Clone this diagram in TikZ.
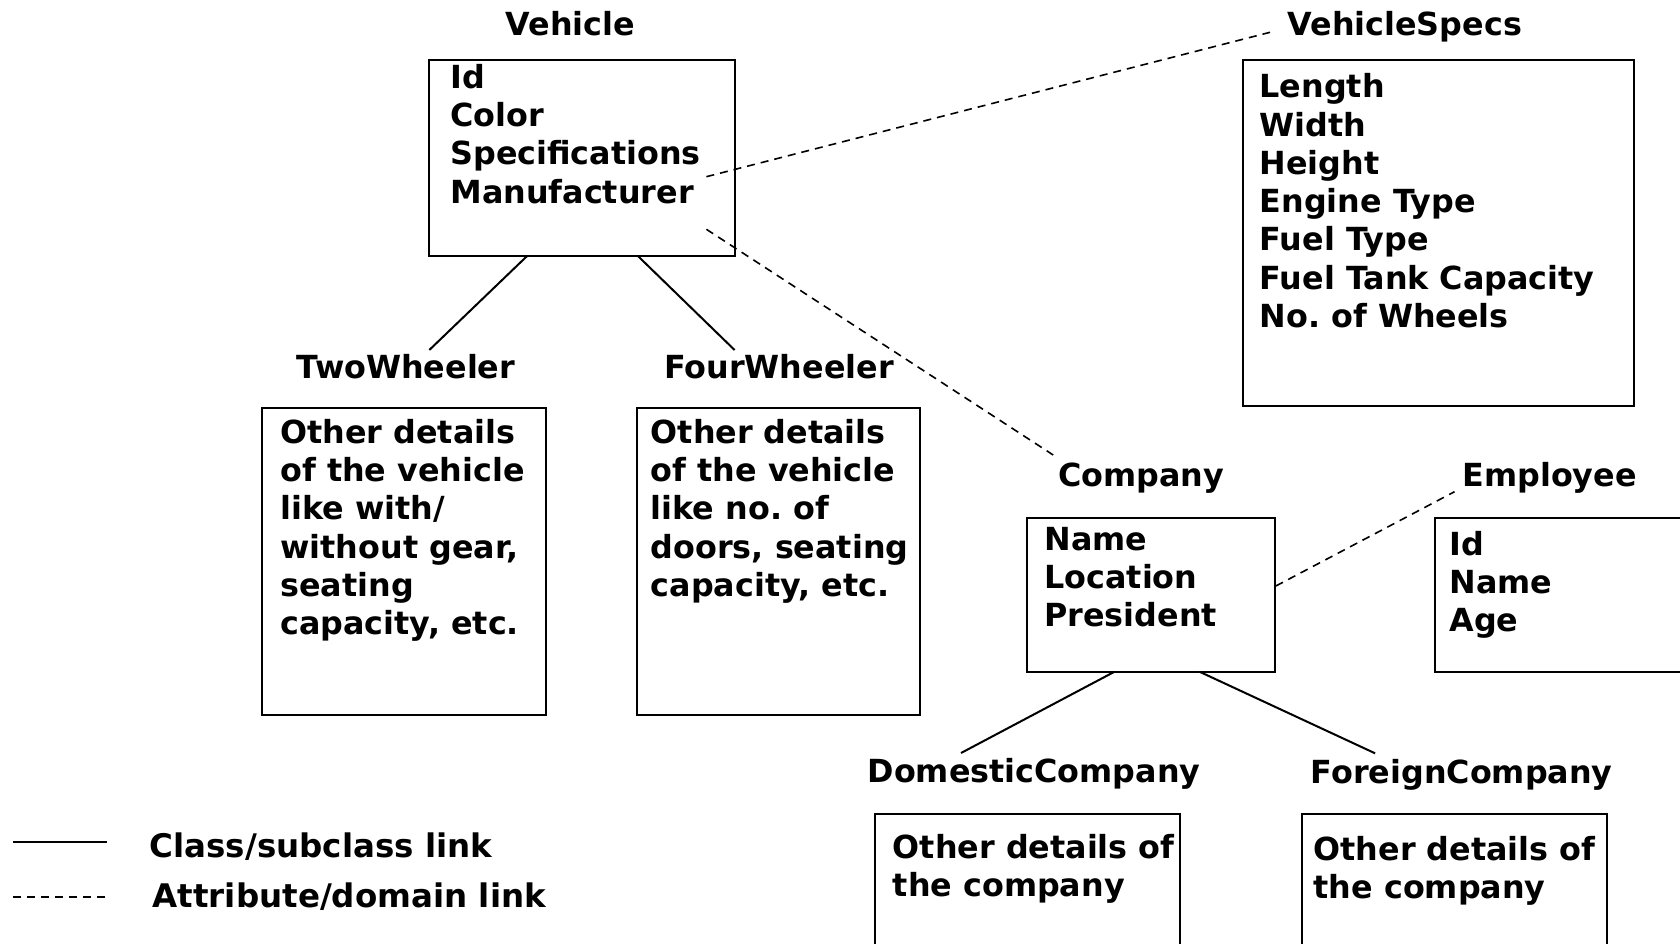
\documentclass[tikz,border=0pt]{standalone}
\usepackage{fontspec}
\setmainfont{DejaVu Sans}
\usetikzlibrary{fit}
\frenchspacing
\begin{document}
\begin{tikzpicture}[x=0.5pt,y=-0.5pt,
  box/.style={draw, line width=1pt, inner sep=0pt, rectangle},
  txt/.style={anchor=base west, align=left, inner sep=0pt, font=\fontsize{15.9}{19.15}\selectfont\bfseries},
  ttl/.style={anchor=base, inner sep=0pt, font=\fontsize{15.9}{19.15}\selectfont\bfseries},
  lgd/.style={anchor=base west, inner sep=0pt, font=\fontsize{16.25}{19.15}\selectfont\bfseries},
  sublink/.style={line width=1pt},
  attrlink/.style={line width=0.8pt, dash pattern=on 4pt off 3pt}]
\useasboundingbox (0,0) rectangle (1680,943);

% boxes
\node[box, fit={(429.3,60) (734.6,256.3)}] (vehicle) {};
\node[box, fit={(1243.2,60) (1633.6,406)}] (specs) {};
\node[box, fit={(262.1,408.3) (546.4,715)}] (two) {};
\node[box, fit={(636.8,408.3) (920,715)}] (four) {};
\node[box, fit={(1026.6,517.7) (1274.5,671.7)}] (company) {};
\node[box, fit={(1435,517.7) (1700,671.7)}] (employee) {};
\node[box, fit={(875.3,814.3) (1179.8,980)}] (domestic) {};
\node[box, fit={(1302.3,814.3) (1607.1,980)}] (foreign) {};

% titles
\node[ttl] (tvehicle) at (570.5,35) {Vehicle};
\node[ttl] (tspecs) at (1404.8,35) {VehicleSpecs};
\node[ttl] (ttwo) at (406,378.3) {TwoWheeler};
\node[ttl] (tfour) at (779,378.3) {FourWheeler};
\node[ttl] (tcompany) at (1141,486.7) {Company};
\node[ttl] (temployee) at (1549.7,486.7) {Employee};
\node[ttl] (tdomestic) at (1034,782) {DomesticCompany};
\node[ttl] (tforeign) at (1461.8,783.3) {ForeignCompany};

% contents (anchored at the baseline of the last line)
\node[txt] (cvehicle) at (450,203.2) {Id\\Color\\Specifications\\Manufacturer};
\node[txt] (cspecs) at (1259.3,327.5) {Length\\Width\\Height\\Engine Type\\Fuel Type\\Fuel Tank Capacity\\No. of Wheels};
\node[txt] (ctwo) at (280,634.8) {Other details\\of the vehicle\\like with/\\without gear,\\seating\\capacity, etc.};
\node[txt] (cfour) at (650.4,596.5) {Other details\\of the vehicle\\like no. of\\doors, seating\\capacity, etc.};
\node[txt] (ccompany) at (1044,626.6) {Name\\Location\\President};
\node[txt] (cemployee) at (1449,631.6) {Id\\Name\\Age};
\node[txt] (cdomestic) at (892.5,896.6) {Other details of\\the company};
\node[txt] (cforeign) at (1313.3,898.3) {Other details of\\the company};

% connector end points
\coordinate (v1) at (526.8,256.3);
\coordinate (v2) at (638.2,256.3);
\coordinate (tw) at (429.3,350);
\coordinate (fw) at (734.6,350);
\coordinate (c1) at (1114.5,671.7);
\coordinate (c2) at (1199.5,671.7);
\coordinate (dc) at (961,753);
\coordinate (fc) at (1375.1,753.3);
\coordinate (vs) at (706.4,176.7);
\coordinate (vm) at (706.4,229.3);
\coordinate (sp) at (1270,32.3);
\coordinate (cp) at (1053.2,455);
\coordinate (ce) at (1275.8,586);
\coordinate (em) at (1454.5,491.7);

\draw[sublink] (v1) -- (tw);
\draw[sublink] (v2) -- (fw);
\draw[sublink] (c1) -- (dc);
\draw[sublink] (c2) -- (fc);
\draw[attrlink] (vs) -- (sp);
\draw[attrlink] (vm) -- (cp);
\draw[attrlink] (ce) -- (em);

% legend
\coordinate (l1a) at (13.4,842.3);
\coordinate (l1b) at (107.2,842.3);
\coordinate (l2a) at (13.4,896.7);
\coordinate (l2b) at (107.2,896.7);
\draw[sublink] (l1a) -- (l1b);
\draw[attrlink] (l2a) -- (l2b);
\node[lgd] (lg1) at (149.3,857.3) {Class/subclass link};
\node[lgd] (lg2) at (152.3,907.7) {Attribute/domain link};
\end{tikzpicture}
\end{document}
